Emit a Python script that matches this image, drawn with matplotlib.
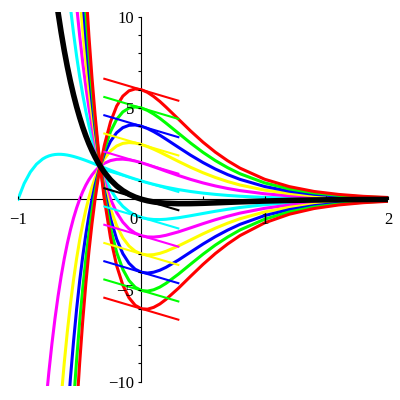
import matplotlib
matplotlib.use("Agg")
import matplotlib.pyplot as plt
from matplotlib.transforms import ScaledTranslation

plt.rcParams['font.family'] = ['Liberation Serif', 'DejaVu Sans']

# x positions the curves were read at; each curve uses the tail of this list
x_grid = [-1.0, -0.95, -0.9, -0.85, -0.8, -0.775, -0.75, -0.725, -0.7, -0.675,
          -0.65, -0.625, -0.6, -0.575, -0.55, -0.525, -0.5, -0.475, -0.45, -0.425,
          -0.4, -0.375, -0.35, -0.3333, -0.3, -0.25, -0.2, -0.15, -0.1, -0.05,
          0.0, 0.05, 0.1, 0.15, 0.2, 0.3, 0.4, 0.5, 0.6, 0.7,
          0.8, 1.0, 1.2, 1.4, 1.6, 1.8, 2.0]

# curves named by colour, "hi" = positive at x=0, "lo" = negative at x=0
cyan_hi = [0.0, 0.864, 1.488, 1.921, 2.205, 2.301, 2.372, 2.420, 2.450, 2.462,
           2.460, 2.445, 2.420, 2.385, 2.343, 2.294, 2.241, 2.183, 2.122, 2.058,
           1.992, 1.925, 1.857, 1.812, 1.722, 1.588, 1.458, 1.333, 1.215, 1.104,
           1.0, 0.904, 0.815, 0.734, 0.658, 0.529, 0.422, 0.335, 0.265, 0.208,
           0.163, 0.099, 0.060, 0.036, 0.022, 0.013, 0.007]
magenta_hi = [-11.250, -9.488, -7.923, -6.533, -5.304, -4.217, -3.261, -2.420, -1.684, -1.042,
              -0.484, 0.0, 0.416, 0.772, 1.074, 1.328, 1.540, 1.714, 1.812, 1.968,
              2.117, 2.187, 2.196, 2.160, 2.092, 2.000, 1.894, 1.778, 1.659, 1.536,
              1.302, 1.085, 0.893, 0.728, 0.588, 0.471, 0.298, 0.186, 0.114, 0.070,
              0.042, 0.025]
yellow_hi = [-10.894, -8.967, -7.260, -5.753, -4.427, -3.262, -2.241, -1.351, -0.578, 0.090,
             0.664, 1.155, 1.571, 1.812, 2.214, 2.646, 2.916, 3.059, 3.105, 3.080,
             3.000, 2.884, 2.741, 2.584, 2.414, 2.075, 1.748, 1.451, 1.191, 0.968,
             0.779, 0.497, 0.312, 0.192, 0.118, 0.071, 0.043]
blue_hi = [-12.100, -9.822, -7.812, -6.040, -4.482, -3.118, -1.928, -0.894, 0.0, 0.770,
           1.428, 1.812, 2.460, 3.175, 3.645, 3.922, 4.050, 4.068, 4.000, 3.874,
           3.704, 3.509, 3.292, 2.848, 2.411, 2.009, 1.654, 1.348, 1.087, 0.696,
           0.438, 0.270, 0.166, 0.100, 0.060]
green_hi = [-11.197, -8.818, -6.723, -4.885, -3.278, -1.878, -0.664, 0.385, 1.285, 1.812,
            2.706, 3.704, 4.374, 4.785, 4.995, 5.056, 5.000, 4.864, 4.667, 4.434,
            4.170, 3.621, 3.074, 2.567, 2.117, 1.728, 1.395, 0.895, 0.564, 0.348,
            0.214, 0.129, 0.078]
red_hi = [-11.596, -8.964, -6.652, -4.628, -2.862, -1.328, 0.0, 1.142, 1.812, 2.952,
          4.233, 5.103, 5.648, 5.940, 6.044, 6.000, 5.854, 5.630, 5.359, 5.048,
          4.394, 3.737, 3.125, 2.580, 2.108, 1.703, 1.094, 0.690, 0.426, 0.262,
          0.158, 0.095]
black_mid = [11.433, 10.228, 9.137, 8.151, 7.260, 6.454, 5.728, 5.072, 4.482, 3.950,
             3.472, 3.042, 2.656, 2.310, 2.000, 1.812, 1.476, 1.059, 0.729, 0.470,
             0.270, 0.116, 0.0, -0.086, -0.148, -0.191, -0.220, -0.244, -0.241, -0.223,
             -0.198, -0.172, -0.145, -0.100, -0.066, -0.042, -0.026, -0.016, -0.010]
cyan_lo = [10.523, 9.113, 7.850, 6.723, 5.717, 4.822, 4.026, 3.320, 2.695, 2.143,
           1.812, 1.230, 0.530, 0.0, -0.393, -0.675, -0.872, -1.000, -1.076, -1.111,
           -1.116, -1.098, -1.017, -0.904, -0.781, -0.661, -0.552, -0.453, -0.299, -0.192,
           -0.120, -0.074, -0.045, -0.028]
magenta_lo = [10.628, 8.964, 7.484, 6.172, 5.010, 3.984, 3.080, 2.286, 1.812, 0.984,
              0.0, -0.729, -1.256, -1.620, -1.860, -2.000, -2.066, -2.074, -2.041, -1.976,
              -1.790, -1.567, -1.339, -1.124, -0.932, -0.761, -0.498, -0.318, -0.198, -0.122,
              -0.074, -0.045]
yellow_lo = [11.205, 9.251, 7.522, 5.994, 4.648, 3.465, 2.429, 1.812, 0.738, -0.528,
             -1.458, -2.119, -2.565, -2.848, -3.000, -3.056, -3.037, -2.966, -2.854, -2.563,
             -2.230, -1.897, -1.587, -1.312, -1.069, -0.697, -0.444, -0.276, -0.170, -0.103,
             -0.063]
blue_lo = [11.018, 8.872, 6.978, 5.312, 3.850, 2.572, 1.812, 0.492, -1.057, -2.187,
           -2.982, -3.510, -3.836, -4.000, -4.046, -4.000, -3.891, -3.732, -3.336, -2.893,
           -2.455, -2.050, -1.692, -1.377, -0.896, -0.570, -0.354, -0.218, -0.132, -0.080]
green_lo = [12.785, 10.222, 7.962, 5.976, 4.235, 2.715, 1.812, 0.246, -1.586, -2.916,
            -3.845, -4.455, -4.824, -5.000, -5.036, -4.963, -4.816, -4.610, -4.109, -3.556,
            -3.013, -2.513, -2.072, -1.685, -1.095, -0.696, -0.432, -0.266, -0.161, -0.098]
red_lo = [11.572, 8.946, 6.640, 4.620, 2.858, 1.812, 0.0, -2.115, -3.645, -4.708,
          -5.400, -5.812, -6.000, -6.026, -5.926, -5.741, -5.488, -4.882, -4.219, -3.571,
          -2.976, -2.452, -1.993, -1.294, -0.822, -0.510, -0.314, -0.190, -0.115]

# short slope segments through (0, y0), all with the same slope
seg_y0 = [6, 5, 4, 3, 2, 1, 0, -1, -2, -3, -4, -5, -6]
seg_colors = ['#ff0000', '#00ff00', '#0000ff', '#ffff00', '#ff00ff', '#00ffff', 'black',
              '#00ffff', '#ff00ff', '#ffff00', '#0000ff', '#00ff00', '#ff0000']
seg_slope = -2
seg_x = [-0.3, 0.3]

x_ticks = [-1, 0, 1, 2]
x_tick_labels = ['\u22121', '0', '1', '2']
x_minor = [-0.5, 0.5, 1.5]
y_ticks = [-10, -5, 5, 10]
y_tick_labels = ['\u221210', '\u22125', '5', '10']

fig = plt.figure(figsize=(4, 4), dpi=100)
ax = fig.add_axes([0.045, 0.0343, 0.925, 0.9353])

curves = [
    (cyan_hi, '#00ffff'), (cyan_lo, '#00ffff'),
    (magenta_hi, '#ff00ff'), (magenta_lo, '#ff00ff'),
    (yellow_hi, '#ffff00'), (yellow_lo, '#ffff00'),
    (blue_hi, '#0000ff'), (blue_lo, '#0000ff'),
    (green_hi, '#00ff00'), (green_lo, '#00ff00'),
    (red_hi, '#ff0000'), (red_lo, '#ff0000'),
]
for ys, col in curves:
    ax.plot(x_grid[-len(ys):], ys, color=col, lw=2.2, zorder=3)

for y0, col in zip(seg_y0, seg_colors):
    ax.plot(seg_x, [y0 + seg_slope * x for x in seg_x], color=col, lw=1.5, zorder=4)

ax.plot(x_grid[-len(black_mid):], black_mid, color='black', lw=4.0, zorder=5)

ax.set_xlim(-1, 2)
ax.set_ylim(-10.25, 10.25)

for side in ['top', 'right']:
    ax.spines[side].set_visible(False)
ax.spines['left'].set_position(('data', 0))
ax.spines['bottom'].set_position(('data', 0))
ax.spines['left'].set_bounds(-10, 10)
for side in ['left', 'bottom']:
    ax.spines[side].set_linewidth(0.8)
    ax.spines[side].set_zorder(1)

ax.set_xticks(x_ticks)
ax.set_xticklabels(x_tick_labels)
ax.set_xticks(x_minor, minor=True)
ax.set_yticks(y_ticks)
ax.set_yticklabels(y_tick_labels)
ax.set_yticks([v for v in range(-10, 11) if v % 5], minor=True)

ax.tick_params(axis='x', which='both', direction='in', length=2.2, width=0.8,
               pad=9, labelsize=12)
ax.tick_params(axis='y', which='both', direction='out', length=2.2, width=0.8,
               pad=3.2, labelsize=12)

# tick labels are printed over the curves
ax.xaxis.set_zorder(6)
ax.yaxis.set_zorder(6)

# the origin label sits left of the y axis
for lab in ax.get_xticklabels():
    if lab.get_text() == '0':
        lab.set_transform(lab.get_transform() + ScaledTranslation(-0.08, 0, fig.dpi_scale_trans))

fig.savefig('out.png', dpi=100)
